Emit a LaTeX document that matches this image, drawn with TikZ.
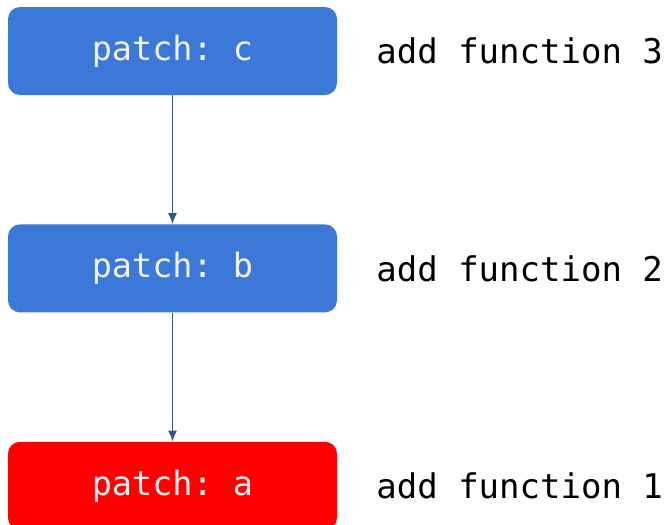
\documentclass[tikz,border=0pt]{standalone}
\usepackage{fontspec}
\setmonofont{DejaVu Sans Mono}
\usetikzlibrary{positioning,arrows.meta}
\definecolor{patchblue}{HTML}{3C78D8}
\definecolor{linkblue}{HTML}{2F5597}
\begin{document}
\begin{tikzpicture}[x=1pt,y=-1pt,node distance=129pt,
        patch/.style={rectangle,rounded corners=12pt,fill=patchblue,text=white!94!black,
            minimum width=329pt,minimum height=88pt,inner sep=0pt,
            font=\fontsize{33.5}{40}\selectfont\ttfamily},
        msg/.style={anchor=west,inner sep=0pt,font=\fontsize{34}{40}\selectfont\ttfamily}]
            \useasboundingbox (0,0) rectangle (667,525);

            \node[patch] (pc) at (172.5,51) {patch: c};
            \node[patch,below=of pc] (pb) {patch: b};
            \node[patch,below=of pb,fill=red] (pa) {patch: a};

            \node[msg,right=39pt of pc.east] (fc) {add function 3};
            \node[msg,right=39pt of pb.east] (fb) {add function 2};
            \node[msg,right=39pt of pa.east] (fa) {add function 1};

            \draw[-{Latex[length=11pt,width=9pt]},linkblue,line width=1.6pt] (pc) to (pb);
            \draw[-{Latex[length=11pt,width=9pt]},linkblue,line width=1.6pt] (pb) to (pa);
        \end{tikzpicture}
\end{document}
